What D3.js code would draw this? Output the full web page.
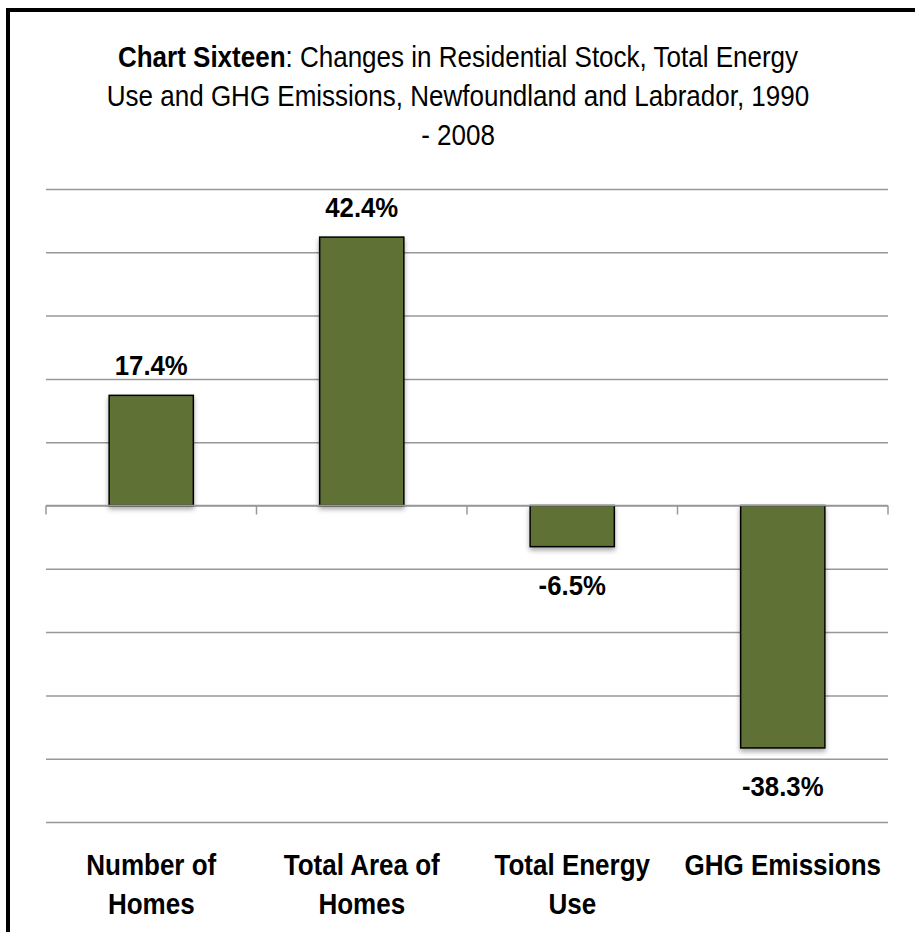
<!DOCTYPE html>
<html lang="en">
<head>
<meta charset="UTF-8">
<title>Chart Sixteen</title>
<script src="https://d3js.org/d3.v7.min.js"></script>
<style>
  body { margin: 0; background: #fff; }
  svg text { font-family: "Liberation Sans Narrow", "Arial Narrow", "Liberation Sans", Arial, sans-serif; fill: #000; }
  .grid line { stroke: #989898; stroke-width: 1.5; }
</style>
</head>
<body>
<div id="chart"></div>
<script>
// data
const categories = [["Number of", "Homes"], ["Total Area of", "Homes"], ["Total Energy", "Use"], ["GHG Emissions"]];
const values = [17.4, 42.4, -6.5, -38.3];
const yTicks = [-50, -40, -30, -20, -10, 0, 10, 20, 30, 40, 50];

const W = 915, H = 932;
const plot = { left: 46, right: 888, top: 189, bottom: 822 };
const narrow = 0.867; // squeeze Liberation Sans to look like Arial Narrow

const svg = d3.select("#chart").append("svg")
  .attr("width", W).attr("height", H);

const defs = svg.append("defs");
const f = defs.append("filter").attr("id", "shadow")
  .attr("x", "-20%").attr("y", "-20%").attr("width", "140%").attr("height", "140%");
f.append("feDropShadow").attr("dx", 0).attr("dy", 3).attr("stdDeviation", 2.5)
  .attr("flood-color", "#000").attr("flood-opacity", 0.35);

// outer frame (cropped at right/bottom like the original)
svg.append("rect").attr("x", 8).attr("y", 10).attr("width", 1000).attr("height", 1000)
  .attr("fill", "none").attr("stroke", "#000").attr("stroke-width", 4);

// title
const title = svg.append("g").attr("transform", `translate(458,0) scale(${narrow},1)`)
  .append("text").attr("text-anchor", "middle").style("font-size", "30px");
const t1 = title.append("tspan").attr("x", 0).attr("y", 67);
t1.append("tspan").style("font-weight", "bold").text("Chart Sixteen");
t1.append("tspan").text(": Changes in Residential Stock, Total Energy");
title.append("tspan").attr("x", 0).attr("y", 106).text("Use and GHG Emissions, Newfoundland and Labrador, 1990");
title.append("tspan").attr("x", 0).attr("y", 145).text("- 2008");

const x = d3.scaleBand()
  .domain(d3.range(values.length))
  .range([plot.left, plot.right])
  .paddingInner(0.6).paddingOuter(0.3);

const y = d3.scaleLinear().domain([-50, 50]).range([plot.bottom, plot.top]);

// gridlines
svg.append("g").attr("class", "grid")
  .attr("transform", `translate(${plot.left},0)`)
  .call(d3.axisLeft(y).tickValues(yTicks).tickSize(-(plot.right - plot.left)).tickFormat(""))
  .call(g => g.select(".domain").remove());

// bars
svg.append("g").selectAll("rect").data(values).join("rect")
  .attr("x", (d, i) => x(i))
  .attr("y", d => y(Math.max(0, d)))
  .attr("width", x.bandwidth())
  .attr("height", d => Math.abs(y(d) - y(0)))
  .attr("fill", "#5f7136")
  .attr("stroke", "#000").attr("stroke-width", 1.5)
  .attr("filter", "url(#shadow)");

// zero axis with category boundary ticks
const zero = svg.append("g").attr("transform", `translate(0,${y(0)})`);
zero.append("line").attr("x1", plot.left).attr("x2", plot.right)
  .attr("stroke", "#989898").attr("stroke-width", 1.5);
const bounds = d3.range(values.length + 1).map(i => plot.left + i * x.step());
zero.selectAll(".tk").data(bounds).join("line").attr("class", "tk")
  .attr("x1", d => d).attr("x2", d => d).attr("y1", 0).attr("y2", 9)
  .attr("stroke", "#989898").attr("stroke-width", 1.5);

// value labels
svg.append("g").selectAll("g").data(values).join("g")
  .attr("transform", (d, i) => `translate(${x(i) + x.bandwidth() / 2},0) scale(0.92,1)`)
  .append("text")
  .attr("x", 0)
  .attr("y", d => d >= 0 ? y(d) - 20 : y(d) + 48)
  .attr("text-anchor", "middle")
  .style("font-size", "28px").style("font-weight", "bold")
  .text(d => d.toFixed(1) + "%");

// category labels
const cat = svg.append("g").selectAll("g").data(categories).join("g")
  .attr("transform", (d, i) => `translate(${x(i) + x.bandwidth() / 2},0) scale(${narrow},1)`)
  .append("text")
  .attr("text-anchor", "middle")
  .style("font-size", "30px").style("font-weight", "bold");
cat.selectAll("tspan").data(d => d).join("tspan")
  .attr("x", 0).attr("y", (d, j) => 875 + j * 39).text(d => d);
</script>
</body>
</html>
